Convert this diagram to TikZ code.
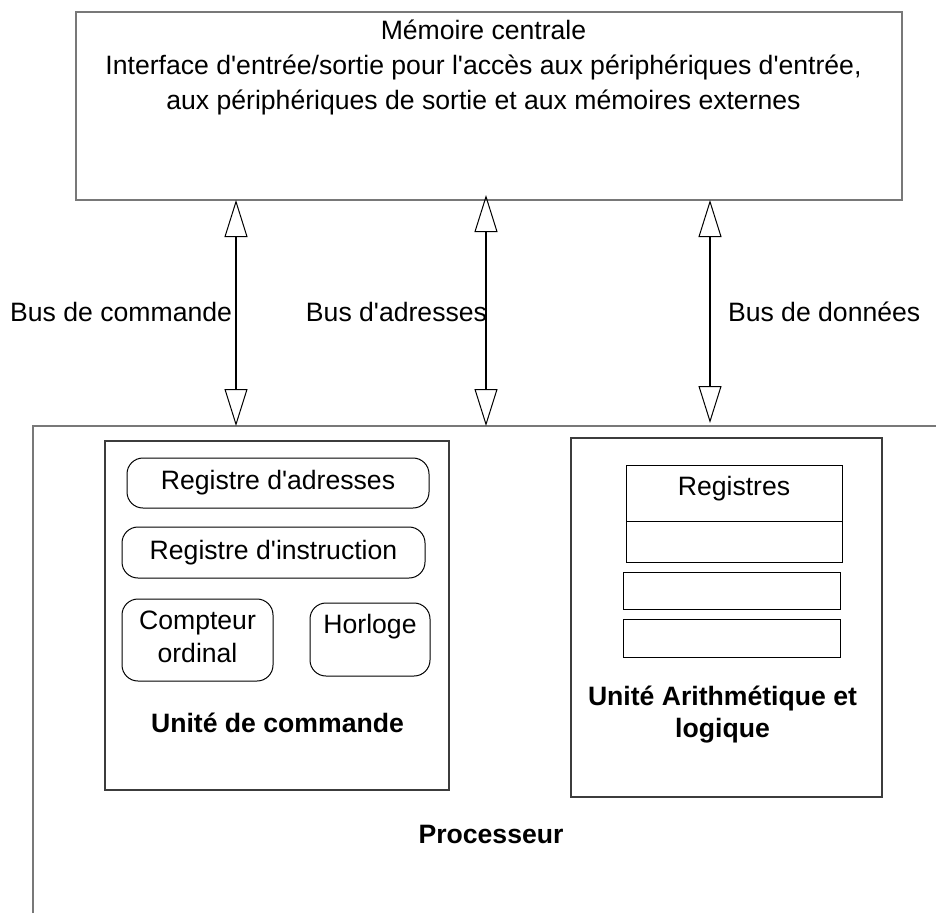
\documentclass[tikz,border=0pt]{standalone}
\usepackage{fontspec}
\setmainfont{Liberation Sans}
\usetikzlibrary{arrows.meta,positioning,calc}
\definecolor{framegray}{RGB}{120,120,120}
\definecolor{unitgray}{RGB}{60,60,60}

\begin{document}
\begin{tikzpicture}[
    x=1pt, y=-1pt,
    every node/.style={inner sep=0pt, outer sep=0pt, font=\fontsize{26.6}{33}\selectfont},
    frame/.style={rectangle, draw=framegray, line width=1.6pt, anchor=north west},
    unit/.style={rectangle, draw=unitgray, line width=1.3pt, anchor=north west},
    reg/.style={rectangle, draw, rounded corners=16pt, line width=1pt, anchor=north west},
    cell/.style={rectangle, draw, line width=1pt, anchor=north west},
    title/.style={font=\fontsize{26.6}{32}\selectfont\bfseries, align=center},
    bus/.style={line width=2.6pt, {Triangle[open, length=37pt, width=23pt, line width=1pt]}-{Triangle[open, length=37pt, width=23pt, line width=1pt]}}
]
    \useasboundingbox (0,0) rectangle (936,913);

    % Memory
    \node[frame, minimum width=826pt, minimum height=188pt] (mem) at (76,12) {};
    \node[anchor=north, align=center, font=\fontsize{26.6}{35}\selectfont,
          below=8pt of mem.north, xshift=-5.5pt] (memtext)
        {Mémoire centrale\\Interface d\textquotesingle entrée/sortie pour l\textquotesingle accès aux périphériques d\textquotesingle entrée,\\aux périphériques de sortie et aux mémoires externes};

    % Processor (open frame)
    \node[anchor=north west, minimum width=903pt, minimum height=487pt] (cpu) at (33,426) {};
    \draw[framegray, line width=1.6pt] (cpu.south west) -- (cpu.north west) -- (cpu.north east);
    \node[title, anchor=base] (cpulbl) at (491,843) {Processeur};

    % Buses
    \coordinate (xcmd) at (236,0);
    \coordinate (xadr) at (486,0);
    \coordinate (xdat) at (710,0);
    \draw[bus] (xcmd |- mem.south) -- (xcmd |- cpu.north);
    \draw[bus] ([yshift=5pt]xadr |- mem.south) -- (xadr |- cpu.north);
    \draw[bus] (xdat |- mem.south) -- ([yshift=3pt]xdat |- cpu.north);
    \node[anchor=base east] (cmdlbl) at (232,321) {Bus de commande};
    \node[anchor=base east] (adrlbl) at (487,321) {Bus d\textquotesingle adresses};
    \node[anchor=base west] (datlbl) at (728,321) {Bus de données};

    % Control unit
    \node[unit, minimum width=344pt, minimum height=349pt] (ctrl) at (105,441) {};
    \node[reg, minimum width=302pt, minimum height=50pt] (regadr) at (127,458) {Registre d\textquotesingle adresses};
    \node[reg, minimum width=303pt, minimum height=51pt] (reginstr) at (122,527) {Registre d\textquotesingle instruction};
    \node[reg, minimum width=151pt, minimum height=82pt, align=center, text depth=7pt] (counter) at (122,599) {Compteur\\ordinal};
    \node[reg, minimum width=120pt, minimum height=73pt, text depth=32pt] (clock) at (310,603) {Horloge};
    \node[title, anchor=base] (ctrllbl) at (277.5,732) {Unité de commande};

    % Arithmetic and logic unit
    \node[unit, minimum width=311pt, minimum height=359pt] (alu) at (571,438) {};
    \node[cell, minimum width=216pt, minimum height=56pt, text depth=14pt] (cellA) at (626,465) {Registres};
    \node[cell, minimum width=216pt, minimum height=41pt] (cellB) at (626,521) {};
    \node[cell, minimum width=217pt, minimum height=37pt] (cellC) at (623,572) {};
    \node[cell, minimum width=217pt, minimum height=38pt] (cellD) at (623,619) {};
    \node[title, anchor=north] (alulbl) at (722.5,686) {Unité Arithmétique et\\logique};
\end{tikzpicture}
\end{document}
